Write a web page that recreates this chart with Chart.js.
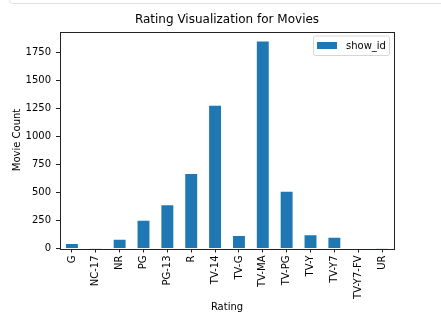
<!DOCTYPE html>
<html lang="en">
<head>
    <meta charset="UTF-8">
    <title>Rating Visualization for Movies</title>
    <script src="https://cdn.jsdelivr.net/npm/chart.js"></script>
    <style>
        body { margin: 0; padding: 0; background: #fff; font-family: "DejaVu Sans", sans-serif; overflow: hidden; }
        .cellEdge {
            position: absolute; left: 9px; top: -10px; width: 500px; height: 12px;
            border: 1px solid #e0e0e0; border-radius: 4px;
        }
        .container { position: absolute; left: 0; top: 0; width: 441px; height: 329px; }
    </style>
</head>
<body>
    <div class="cellEdge"></div>
    <div class="container">
        <canvas id="myChart" width="441" height="329"></canvas>
    </div>

    <script>
        const chartTitle = 'Rating Visualization for Movies';
        const ratings = ["G", "NC-17", "NR", "PG", "PG-13", "R", "TV-14", "TV-G", "TV-MA", "TV-PG", "TV-Y", "TV-Y7", "TV-Y7-FV", "UR"];
        const showIdCounts = [40, 3, 79, 247, 386, 663, 1272, 111, 1845, 505, 117, 95, 5, 3];
        const yTicks = [0, 250, 500, 750, 1000, 1250, 1500, 1750];

        const font = "'DejaVu Sans', sans-serif";

        // matplotlib puts the title over the axes, not the figure, so draw it here
        const frameAndLegend = {
            id: 'frameAndLegend',
            afterDraw: chart => {
                const ctx = chart.ctx;
                const a = chart.chartArea;
                ctx.save();
                ctx.fillStyle = '#000';
                ctx.font = '12px ' + font;
                ctx.textAlign = 'center';
                ctx.textBaseline = 'middle';
                ctx.fillText(chartTitle, (a.left + a.right) / 2, a.top - 12);

                // axes box, like matplotlib spines
                ctx.strokeStyle = '#222';
                ctx.lineWidth = 1;
                ctx.strokeRect(Math.round(a.left) + 0.5, Math.round(a.top) + 0.5,
                    Math.round(a.right - a.left), Math.round(a.bottom - a.top));

                // legend box top right inside the axes
                const ds = chart.data.datasets[0];
                const x = a.right - 80.5, y = a.top + 4.5, w = 76, h = 19.5;
                ctx.beginPath();
                ctx.roundRect(x, y, w, h, 2);
                ctx.fillStyle = 'rgba(255,255,255,0.8)';
                ctx.fill();
                ctx.strokeStyle = '#d6d6d6';
                ctx.stroke();
                ctx.fillStyle = ds.backgroundColor;
                ctx.fillRect(x + 3.5, y + 6, 20, 7);
                ctx.fillStyle = '#000';
                ctx.font = '10px ' + font;
                ctx.textAlign = 'left';
                ctx.fillText(ds.label, x + 32.5, y + 10);
                ctx.restore();
            }
        };

        new Chart(document.getElementById('myChart').getContext('2d'), {
            type: 'bar',
            data: {
                labels: ratings,
                datasets: [{
                    label: 'show_id',
                    data: showIdCounts,
                    backgroundColor: '#1f77b4',
                    barPercentage: 0.5,
                    categoryPercentage: 1.0
                }]
            },
            options: {
                responsive: false,
                animation: false,
                layout: { padding: { left: 0, right: 47, top: 31.5, bottom: 12 } },
                scales: {
                    x: {
                        offset: true,
                        grid: { offset: false, drawOnChartArea: false, drawTicks: true, tickLength: 4, tickColor: '#222' },
                        border: { display: false },
                        ticks: {
                            minRotation: 90, maxRotation: 90, autoSkip: false, padding: 3,
                            color: '#000', font: { family: font, size: 10 }
                        },
                        title: {
                            display: true, text: 'Rating', color: '#000',
                            font: { family: font, size: 10 }, padding: { top: 4, bottom: 4 }
                        },
                        afterFit: scale => { scale.height = 68.5; }
                    },
                    y: {
                        min: 0,
                        max: 1934,
                        afterBuildTicks: scale => { scale.ticks = yTicks.map(v => ({ value: v })); },
                        grid: { drawOnChartArea: false, drawTicks: true, tickLength: 4, tickColor: '#222' },
                        border: { display: false },
                        ticks: {
                            padding: 5, color: '#000', font: { family: font, size: 10 },
                            callback: value => String(value)
                        },
                        title: {
                            display: true, text: 'Movie Count', color: '#000',
                            font: { family: font, size: 10 }, padding: { top: 11, bottom: 0 }
                        },
                        afterFit: scale => { scale.width = 60; }
                    }
                },
                plugins: {
                    legend: { display: false },
                    tooltip: { enabled: false },
                    title: { display: false }
                }
            },
            plugins: [frameAndLegend]
        });
    </script>
</body>
</html>
